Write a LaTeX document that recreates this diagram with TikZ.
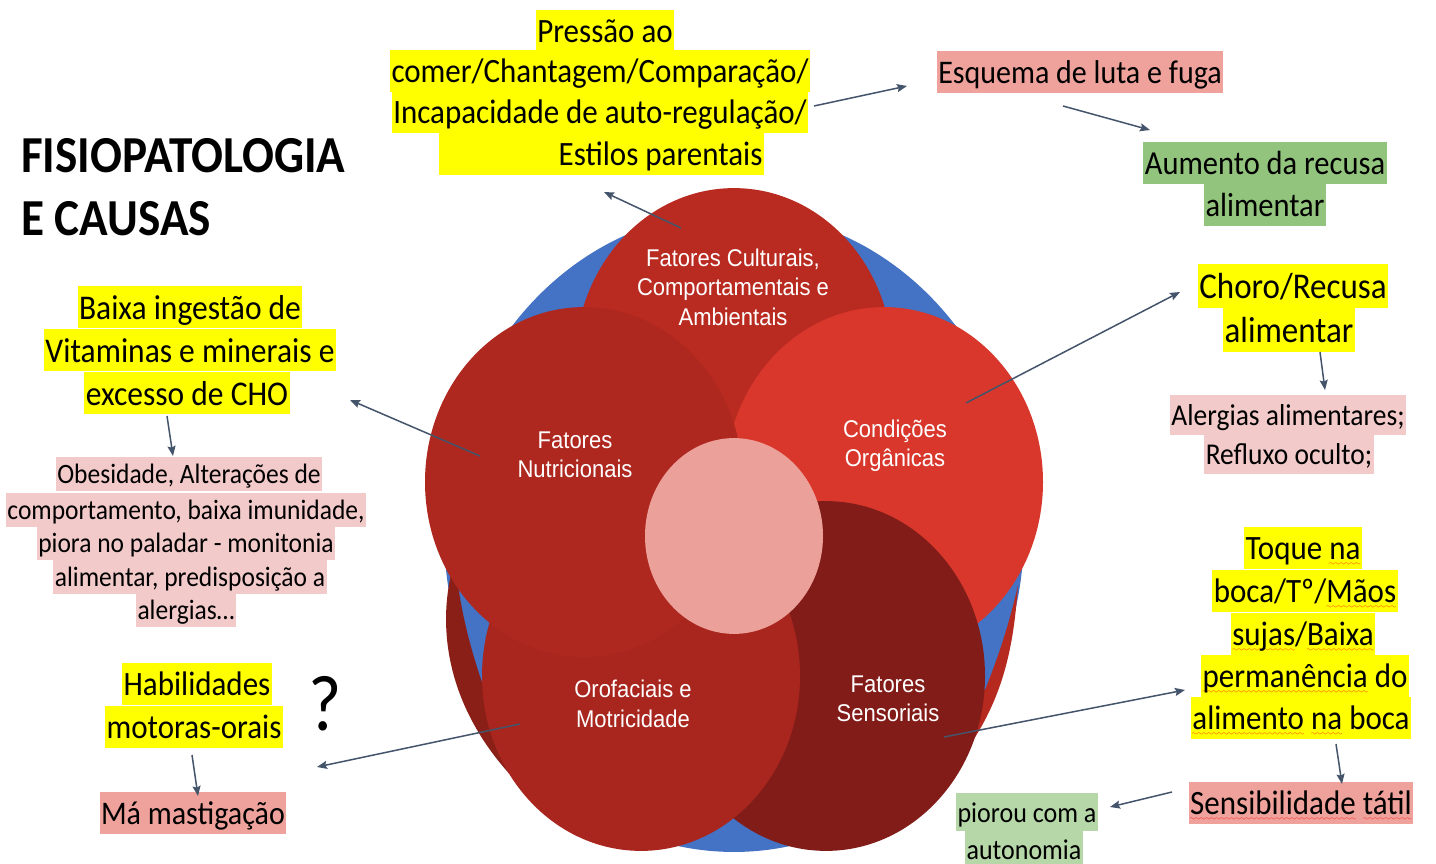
\documentclass[tikz,border=0pt]{standalone}
\usepackage{fontspec}
\setmainfont{Carlito}
\newfontfamily\circfont{Liberation Sans}
\usetikzlibrary{arrows.meta}
\font\sqwavefont=lasy6
\newsavebox\sqwordbox
\newcommand\spellsq[1]{\sbox\sqwordbox{#1}\rlap{\textcolor{red}{\xleaders\hbox{\lower5.5pt\hbox{\sqwavefont\char58}}\hskip\wd\sqwordbox}}\usebox\sqwordbox}
\definecolor{ringblue}{HTML}{4472C4}
\definecolor{pcult}{HTML}{B92B21}
\definecolor{pnutr}{HTML}{AE2820}
\definecolor{pcond}{HTML}{D9372B}
\definecolor{porof}{HTML}{A8261E}
\definecolor{psens}{HTML}{821C18}
\definecolor{pcenter}{HTML}{EBA19A}
\definecolor{crescL}{HTML}{8A1F18}
\definecolor{crescR}{HTML}{B5291F}
\definecolor{hly}{HTML}{FFFF00}
\definecolor{hlpink}{HTML}{EEA29B}
\definecolor{hlpinkl}{HTML}{F3CACA}
\definecolor{hlgreen}{HTML}{93C47D}
\definecolor{hlgreenl}{HTML}{B6D7A8}
\definecolor{connc}{HTML}{44546A}
\begin{document}
\begin{tikzpicture}[x=1pt,y=-1pt,
  every node/.append style={yscale=1.1},
  petal/.style={circle, minimum size=318pt, inner sep=0pt, draw=none},
  ctext/.style={text=white, font=\circfont\fontsize{22}{26.8}\selectfont, align=center, inner sep=0pt},
  hl/.style={fill=#1, inner xsep=1.5pt, inner ysep=0pt, text=black},
  blk/.style n args={4}{font=\fontsize{#1}{#1}\selectfont, text height=#2pt, text depth=#3pt, minimum height=#4pt},
  bP/.style={blk={31}{27.9}{6.2}{37.3}},
  bE/.style={blk={30}{27}{6}{39}},
  bA/.style={blk={30.5}{27.5}{6.1}{38}},
  bC/.style={blk={33}{29.7}{6.6}{40}},
  bAL/.style={blk={27.5}{24.8}{5.5}{35.5}},
  bB/.style={blk={31.5}{28.4}{6.3}{39}},
  bO/.style={blk={25.5}{23}{5.1}{31}},
  bH/.style={blk={31}{27.9}{6.2}{38.6}},
  bM/.style={blk={30}{27}{6}{38.2}},
  bT/.style={blk={31}{27.9}{6.2}{38.6}},
  bPI/.style={blk={26}{23.4}{5.2}{34.5}},
  titl/.style={anchor=base west, inner sep=0pt, font=\bfseries\fontsize{47.2}{47.2}\selectfont},
  conn/.style={draw=connc, line width=1.5pt, -{Stealth[length=10pt,width=8pt,inset=1.5pt]}}
]
\useasboundingbox (0,0) rectangle (1436,864);
\fill[white] (0,0) rectangle (1436,864);

% outer ring and back shapes
\node[circle, minimum size=580pt, inner sep=0pt, fill=ringblue, yscale=1.003] (ring) at (734,532) {};
\fill[crescL] (455,560) .. controls (436,620) and (442,710) .. (525,790) -- (545,720) -- (486,694) .. controls (474,660) and (460,615) .. (455,560) -- cycle;
\fill[crescR] (1018,585) .. controls (1014,640) and (1006,690) .. (972,742) -- (950,700) -- (985,690) .. controls (995,665) and (1008,630) .. (1018,585) -- cycle;

% petals
\node[petal, fill=pcult] (cult) at (734,363) {};
\node[petal, fill=pcond] (cond) at (884,482) {};
\node[petal, fill=psens] (sens) at (826,676) {};
\node[petal, fill=porof] (orof) at (641,676) {};
\node[petal, fill=pnutr] (nutr) at (584,482) {};
\node[circle, minimum size=178pt, inner sep=0pt, fill=pcenter] (hub) at (734,536) {};

% petal labels
\node[ctext] (lcult) at (733,287) {Fatores Culturais,\\Comportamentais e\\Ambientais};
\node[ctext] (lnutr) at (575,455) {Fatores\\Nutricionais};
\node[ctext] (lcond) at (895,446) {Condições\\Orgânicas};
\node[ctext] (lorof) at (633,704) {Orofaciais e\\Motricidade};
\node[ctext] (lsens) at (888,699) {Fatores\\Sensoriais};

% title
\node[titl] (tit1) at (21,172) {FISIOPATOLOGIA};
\node[titl] (tit2) at (21,235) {E CAUSAS};

% top block
\node[hl=hly, bP] (p1) at (605,31) {Pressão ao};
\node[hl=hly, bP] (p2) at (600,71) {comer/Chantagem/Comparação/};
\node[hl=hly, bP] (p3) at (600,112) {Incapacidade de auto-regulação/};
\node[hl=hly, bP, text width=322pt, align=flush right] (p4) at (601.5,154) {Estilos parentais};

\node[hl=hlpink, bE] (e1) at (1080,72) {Esquema de luta e fuga};
\node[hl=hlgreen, bA] (a1) at (1265,163) {Aumento da recusa};
\node[hl=hlgreen, bA] (a2) at (1265,205) {alimentar};

\node[hl=hly, bC] (c1) at (1293,286) {Choro/Recusa};
\node[hl=hly, bC] (c2) at (1289,330) {alimentar};
\node[hl=hlpinkl, bAL] (al1) at (1288,415) {Alergias alimentares;};
\node[hl=hlpinkl, bAL] (al2) at (1289,454) {Refluxo oculto;};

% left blocks
\node[hl=hly, bB] (b1) at (190,307) {Baixa ingestão de};
\node[hl=hly, bB] (b2) at (190,350) {Vitaminas e minerais e};
\node[hl=hly, bB] (b3) at (187,393) {excesso de CHO};
\node[hl=hlpinkl, bO] (o1) at (189,474) {Obesidade, Alterações de};
\node[hl=hlpinkl, bO] (o2) at (186,510) {comportamento, baixa imunidade,};
\node[hl=hlpinkl, bO] (o3) at (186,543) {piora no paladar - monitonia};
\node[hl=hlpinkl, bO] (o4) at (190,577) {alimentar, predisposição a};
\node[hl=hlpinkl, bO] (o5) at (186,610) {alergias…};

\node[hl=hly, bH] (h1) at (197,684) {Habilidades};
\node[hl=hly, bH] (h2) at (194,727) {motoras-orais};
\node[inner sep=0pt, font=\fontsize{72}{72}\selectfont] (qm) at (325,704) {?};
\node[hl=hlpink, bM] (m1) at (193,813) {Má mastigação};

% right lower blocks
\node[hl=hly, bT] (t1) at (1303,548) {Toque \spellsq{na}};
\node[hl=hly, bT] (t2) at (1305,591) {boca/Tº/\spellsq{Mãos}};
\node[hl=hly, bT] (t3) at (1303,634) {\spellsq{sujas}/\spellsq{Baixa}};
\node[hl=hly, bT] (t4) at (1305,676) {\spellsq{permanência} do};
\node[hl=hly, bT] (t5) at (1301,718) {\spellsq{alimento} \spellsq{na} boca};
\node[hl=hlpink, bT] (s1) at (1301,803) {\spellsq{Sensibilidade} \spellsq{tátil}};
\node[hl=hlgreenl, bPI] (pi1) at (1027,812) {piorou com a};
\node[hl=hlgreenl, bPI] (pi2) at (1024,849) {autonomia};

% connector end points
\coordinate (k1a) at (681,228); \coordinate (k1b) at (604,192);
\coordinate (k2a) at (814,106); \coordinate (k2b) at (907,86);
\coordinate (k3a) at (1063,106); \coordinate (k3b) at (1150,130);
\coordinate (k4a) at (966,403); \coordinate (k4b) at (1180,292);
\coordinate (k5a) at (1320,352); \coordinate (k5b) at (1325,390);
\coordinate (k6a) at (480,456); \coordinate (k6b) at (350,400);
\coordinate (k7a) at (167,416); \coordinate (k7b) at (173,456);
\coordinate (k8a) at (520,724); \coordinate (k8b) at (317,767);
\coordinate (k9a) at (192,755); \coordinate (k9b) at (198,796);
\coordinate (k10a) at (944,737); \coordinate (k10b) at (1185,690);
\coordinate (k11a) at (1336,744); \coordinate (k11b) at (1342,784);
\coordinate (k12a) at (1172,792); \coordinate (k12b) at (1110,807);

\draw[conn] (k1a) -- (k1b);
\draw[conn] (k2a) -- (k2b);
\draw[conn] (k3a) -- (k3b);
\draw[conn] (k4a) -- (k4b);
\draw[conn] (k5a) -- (k5b);
\draw[conn] (k6a) -- (k6b);
\draw[conn] (k7a) -- (k7b);
\draw[conn] (k8a) -- (k8b);
\draw[conn] (k9a) -- (k9b);
\draw[conn] (k10a) -- (k10b);
\draw[conn] (k11a) -- (k11b);
\draw[conn] (k12a) -- (k12b);
\end{tikzpicture}
\end{document}
